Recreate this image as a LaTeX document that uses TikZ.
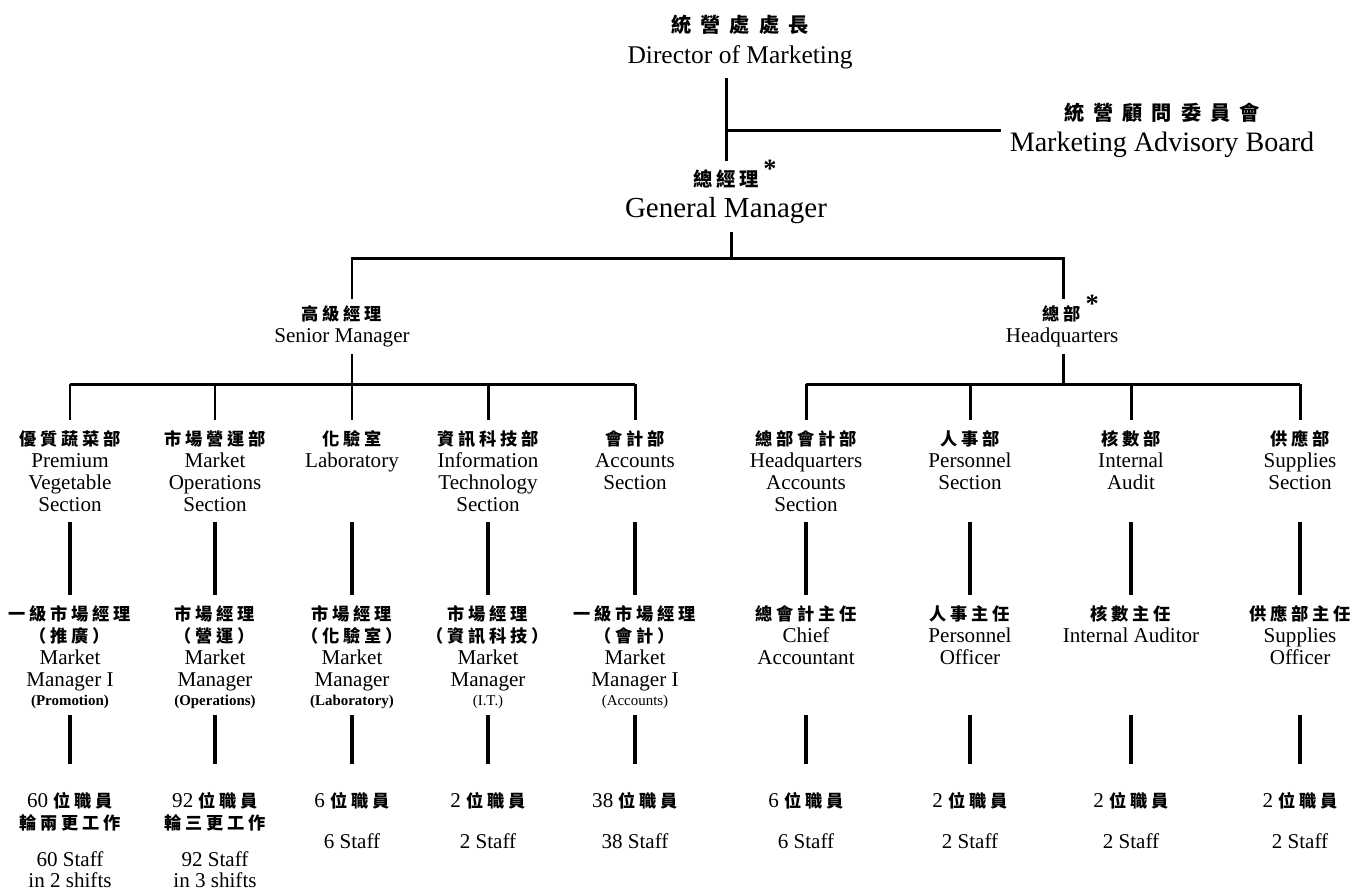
\documentclass[tikz,border=0pt]{standalone}
\usepackage{fontspec}
\setmainfont{Liberation Serif}
\newfontfamily\cjk[LetterSpace=22]{Noto Sans CJK TC}
\usetikzlibrary{positioning}

\begin{document}
\begin{tikzpicture}[x=0.02cm,y=-0.02cm]
        % Define styles for labels and lines
        \tikzset{
            conn/.style={line width=1.7pt},
            stem/.style={line width=2.3pt},
            head/.style={align=center, inner sep=0pt, outer sep=5pt, anchor=north},
            mid/.style={align=center, inner sep=0pt, outer sep=4pt, anchor=north, font=\fontsize{12}{12.5}\selectfont},
            unit/.style={align=center, inner sep=0pt, outer sep=6pt, anchor=north, font=\fontsize{12}{12.5}\selectfont},
            staff/.style={unit, outer sep=16pt}
        }
        \newcommand\zh[1]{{\cjk\bfseries\fontsize{9.8}{12.5}\selectfont #1}}
        \newcommand\zhtop[1]{{\cjk\bfseries\fontsize{11.5}{18}\selectfont\addfontfeature{LetterSpace=45}#1}}
        \newcommand\astmark{\rlap{\smash{\raisebox{5pt}{\bfseries\fontsize{15}{15}\selectfont\,*}}}}
        \useasboundingbox (0,0) rectangle (1354,890);

        % Top of the chart
        \node[head, font=\fontsize{14.5}{18}\selectfont] (dir) at (740,6) {\zhtop{統營處處長}\\Director of Marketing};
        \node[head, font=\fontsize{16}{18}\selectfont] (board) at (1162,94) {\zhtop{統營顧問委員會}\\Marketing Advisory Board};
        \node[head, font=\fontsize{16.5}{17.5}\selectfont] (gm) at (726,161) {{\cjk\bfseries\fontsize{11}{12}\selectfont\addfontfeature{LetterSpace=20}總經理}\astmark\\General Manager};

        \draw[conn] (gm.north |- dir.south) -- (gm.north);
        \draw[conn] (board.west) -- (board.west -| gm.north);

        % Second level
        \coordinate (gmbus) at (731,258);
        \coordinate (smbus) at (352,384);
        \coordinate (hqbus) at (1063,384);
        \node[mid] (sm) at (342,299) {\zh{高級經理}\\Senior Manager};
        \node[mid] (hq) at (1062,299) {\zh{總部}\astmark\\Headquarters};

        \draw[conn] (gm.south -| gmbus) -- (gmbus);
        \draw[conn] (sm.north -| smbus) -- (smbus |- gmbus) -- (hqbus |- gmbus) -- (hq.north -| hqbus);
        \draw[conn] (sm.south -| smbus) -- (smbus);
        \draw[conn] (hq.south -| hqbus) -- (hqbus);

        % Sections
        \node[unit] (sec1) at (70,420) {\zh{優質蔬菜部}\\Premium\\Vegetable\\Section};
        \node[unit] (sec2) at (215,420) {\zh{市場營運部}\\Market\\Operations\\Section};
        \node[unit] (sec3) at (352,420) {\zh{化驗室}\\Laboratory};
        \node[unit] (sec4) at (488,420) {\zh{資訊科技部}\\Information\\Technology\\Section};
        \node[unit] (sec5) at (635,420) {\zh{會計部}\\Accounts\\Section};
        \node[unit] (sec6) at (806,420) {\zh{總部會計部}\\Headquarters\\Accounts\\Section};
        \node[unit] (sec7) at (970,420) {\zh{人事部}\\Personnel\\Section};
        \node[unit] (sec8) at (1131,420) {\zh{核數部}\\Internal\\Audit};
        \node[unit] (sec9) at (1300,420) {\zh{供應部}\\Supplies\\Section};

        \draw[conn] (sec1.north |- smbus) -- (sec5.north |- smbus);
        \draw[conn] (sec6.north |- hqbus) -- (sec9.north |- hqbus);
        \foreach \i in {1,...,5}
            \draw[conn] (sec\i.north |- smbus) -- (sec\i.north);
        \foreach \i in {6,...,9}
            \draw[conn] (sec\i.north |- hqbus) -- (sec\i.north);

        % Managers
        \node[unit] (mgr1) at (70,595) {\zh{一級市場經理}\\\zh{（推廣）}\\Market\\Manager I\\[-1.5pt]{\bfseries\fontsize{8.5}{9}\selectfont(Promotion)}};
        \node[unit] (mgr2) at (215,595) {\zh{市場經理}\\\zh{（營運）}\\Market\\Manager\\[-1.5pt]{\bfseries\fontsize{8.5}{9}\selectfont(Operations)}};
        \node[unit] (mgr3) at (352,595) {\zh{市場經理}\\\zh{（化驗室）}\\Market\\Manager\\[-1.5pt]{\bfseries\fontsize{8.5}{9}\selectfont(Laboratory)}};
        \node[unit] (mgr4) at (488,595) {\zh{市場經理}\\\zh{（資訊科技）}\\Market\\Manager\\[-1.5pt]{\fontsize{8.5}{9}\selectfont(I.T.)}};
        \node[unit] (mgr5) at (635,595) {\zh{一級市場經理}\\\zh{（會計）}\\Market\\Manager I\\[-1.5pt]{\fontsize{8.5}{9}\selectfont(Accounts)}};
        \node[unit] (mgr6) at (806,595) {\zh{總會計主任}\\Chief\\Accountant};
        \node[unit] (mgr7) at (970,595) {\zh{人事主任}\\Personnel\\Officer};
        \node[unit] (mgr8) at (1131,595) {\zh{核數主任}\\Internal Auditor};
        \node[unit] (mgr9) at (1300,595) {\zh{供應部主任}\\Supplies\\Officer};

        \coordinate (rowa) at (0,522);
        \foreach \i in {1,...,9}
            \draw[stem] (sec\i.north |- rowa) -- (mgr\i.north);

        % Staff
        \node[staff] (staff1) at (70,764) {60 \zh{位職員}\\\zh{輪兩更工作}\\[9pt]60 Staff\\[-1pt]in 2 shifts};
        \node[staff] (staff2) at (215,764) {92 \zh{位職員}\\\zh{輪三更工作}\\[9pt]92 Staff\\[-1pt]in 3 shifts};
        \node[staff] (staff3) at (352,764) {6 \zh{位職員}\\[11pt]6 Staff};
        \node[staff] (staff4) at (488,764) {2 \zh{位職員}\\[11pt]2 Staff};
        \node[staff] (staff5) at (635,764) {38 \zh{位職員}\\[11pt]38 Staff};
        \node[staff] (staff6) at (806,764) {6 \zh{位職員}\\[11pt]6 Staff};
        \node[staff] (staff7) at (970,764) {2 \zh{位職員}\\[11pt]2 Staff};
        \node[staff] (staff8) at (1131,764) {2 \zh{位職員}\\[11pt]2 Staff};
        \node[staff] (staff9) at (1300,764) {2 \zh{位職員}\\[11pt]2 Staff};

        \coordinate (rowb) at (0,715);
        \foreach \i in {1,...,9}
            \draw[stem] (mgr\i.north |- rowb) -- (staff\i.north);
    \end{tikzpicture}
\end{document}
